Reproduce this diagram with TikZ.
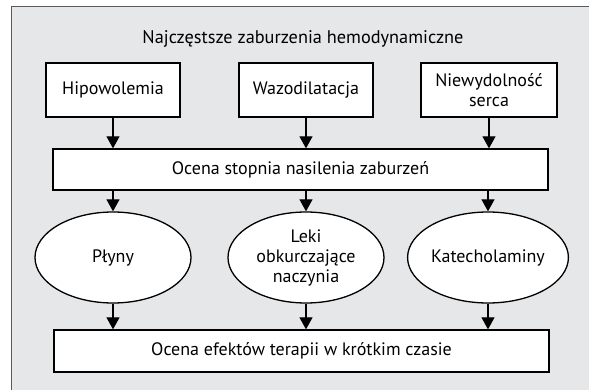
\documentclass[tikz,border=0pt]{standalone}
\usepackage{fontspec}
\setmainfont{PT Sans}
\usetikzlibrary{shapes, arrows.meta, positioning, calc}
\definecolor{panelgray}{RGB}{230, 231, 233}
\definecolor{framegray}{RGB}{90, 90, 90}
\tikzset{
    basicbox/.style={
        rectangle,
        draw=black,
        fill=white,
        line width=1.3pt,
        align=center,
        inner sep=0pt,
        font=\fontsize{18}{20}\selectfont
    },
    ellbox/.style={
        ellipse,
        draw=black,
        fill=white,
        line width=1.3pt,
        align=center,
        inner sep=0pt,
        minimum width=156pt,
        minimum height=91pt,
        font=\fontsize{18}{20}\selectfont
    },
    arrow/.style={
        -{Triangle[length=12pt, width=13pt]},
        line width=1.2pt,
        color=black
    }
}
\begin{document}
\begin{tikzpicture}[x=1pt, y=-1pt]
    \useasboundingbox (0,0) rectangle (589,390);
    % grey panel, right and bottom edges run off the page
    \draw[framegray, fill=panelgray, line width=1pt] (11,7) rectangle (600,400);

    \node[font=\fontsize{18.3}{20}\selectfont] (title) at (303,39) {Najczęstsze zaburzenia hemodynamiczne};

    % causes
    \node[basicbox, minimum width=134pt, minimum height=54pt] (hipo) at (113,90) {Hipowolemia};
    \node[basicbox, minimum width=134pt, minimum height=54pt] (wazo) at (306,90) {Wazodilatacja};
    \node[basicbox, minimum width=136pt, minimum height=54pt] (serce) at (489,90) {Niewydolność\\serca};

    % assessment
    \node[basicbox, minimum width=495pt, minimum height=41pt] (ocena) at (300.5,169.5) {Ocena stopnia nasilenia zaburzeń};

    % treatment
    \node[ellbox] (plyny) at (113,257.5) {Płyny};
    \node[ellbox] (leki) at (306,257.5) {Leki\\obkurczające\\naczynia};
    \node[ellbox] (kat) at (488,257.5) {Katecholaminy};

    % effects
    \node[basicbox, minimum width=495pt, minimum height=42pt] (efekt) at (301.5,351) {Ocena efektów terapii w krótkim czasie};

    \draw[arrow] (hipo.south) -- (hipo.south |- ocena.north);
    \draw[arrow] (wazo.south) -- (wazo.south |- ocena.north);
    \draw[arrow] (serce.south) -- (serce.south |- ocena.north);
    \draw[arrow] (plyny.north |- ocena.south) -- (plyny.north);
    \draw[arrow] (leki.north |- ocena.south) -- (leki.north);
    \draw[arrow] (kat.north |- ocena.south) -- (kat.north);
    \draw[arrow] (plyny.south) -- (plyny.south |- efekt.north);
    \draw[arrow] (leki.south) -- (leki.south |- efekt.north);
    \draw[arrow] (kat.south) -- (kat.south |- efekt.north);
\end{tikzpicture}
\end{document}
